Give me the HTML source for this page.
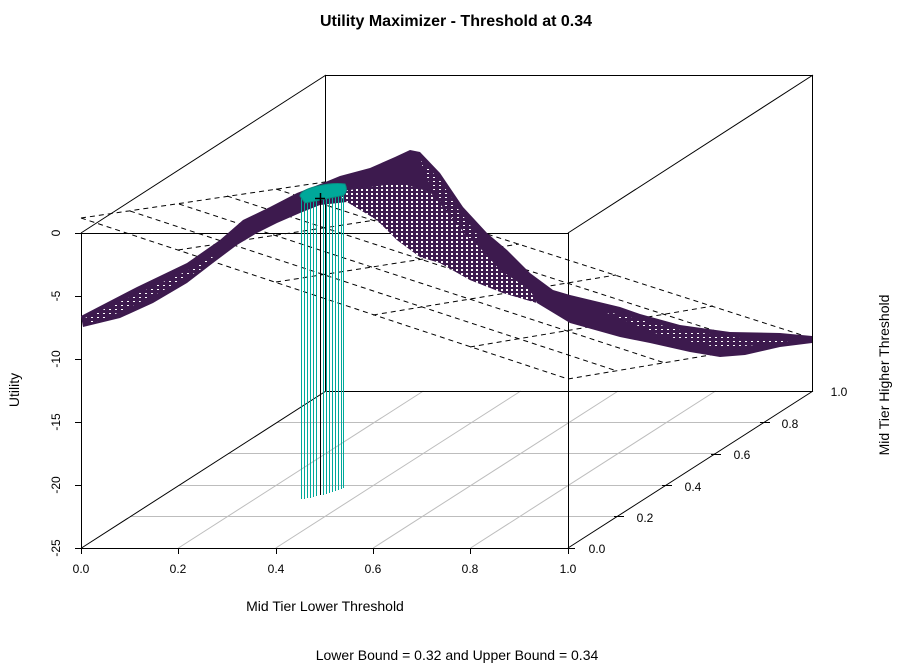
<!DOCTYPE html>
<html><head><meta charset="utf-8"><style>
html,body{margin:0;padding:0;background:#fff;}
svg{display:block;font-family:"Liberation Sans",Arial,sans-serif;}
</style></head><body>
<svg width="899" height="664" viewBox="0 0 899 664" xmlns="http://www.w3.org/2000/svg">
<defs>
<pattern id="hp" width="5" height="4" patternUnits="userSpaceOnUse">
<rect width="5" height="4" fill="#3d1a4e"/>
<rect x="1" y="1" width="2" height="2" fill="#fff"/>
</pattern>
<pattern id="hp2" width="6" height="4" patternUnits="userSpaceOnUse">
<rect width="6" height="4" fill="#3d1a4e"/>
<rect x="1" y="1" width="2" height="1" fill="#fff"/>
</pattern>
</defs>
<rect width="899" height="664" fill="#fff"/>
<text x="456" y="26" text-anchor="middle" font-size="16" font-weight="bold">Utility Maximizer - Threshold at 0.34</text>

<g stroke="#bdbdbd" stroke-width="1">
<line x1="178.4" y1="548" x2="423.4" y2="391"/>
<line x1="275.8" y1="548" x2="520.8" y2="391"/>
<line x1="373.2" y1="548" x2="618.2" y2="391"/>
<line x1="470.6" y1="548" x2="715.6" y2="391"/>
<line x1="130" y1="516.5" x2="617" y2="516.5"/>
<line x1="179" y1="485.5" x2="666" y2="485.5"/>
<line x1="228" y1="453.5" x2="715" y2="453.5"/>
<line x1="277" y1="422.5" x2="764" y2="422.5"/>
</g>

<g stroke="#000" stroke-width="1" fill="none">
<line x1="81.5" y1="548" x2="326" y2="391"/>
<line x1="326" y1="391.5" x2="813" y2="391.5"/>
<line x1="325.5" y1="75" x2="325.5" y2="391"/>
<line x1="81" y1="233" x2="326" y2="75"/>
<line x1="326" y1="75.5" x2="813" y2="75.5"/>
<line x1="812.5" y1="75" x2="812.5" y2="391"/>
<line x1="568" y1="233" x2="813" y2="75"/>
<line x1="81" y1="233.5" x2="568" y2="233.5"/>
<line x1="81.5" y1="233" x2="81.5" y2="548"/>
<line x1="568.5" y1="233" x2="568.5" y2="548"/>
<line x1="81" y1="548.5" x2="568" y2="548.5"/>
<line x1="568" y1="548" x2="813" y2="391"/>
</g>

<g stroke="#000" stroke-width="1" stroke-dasharray="5,4" fill="none">
<line x1="81" y1="218" x2="568" y2="379"/>
<line x1="130" y1="211" x2="617" y2="371"/>
<line x1="179" y1="204" x2="665" y2="363"/>
<line x1="227" y1="196" x2="714" y2="355"/>
<line x1="276" y1="189" x2="762" y2="346"/>
<line x1="325" y1="182" x2="811" y2="338"/>
<line x1="81" y1="218" x2="325" y2="182"/>
<line x1="178" y1="250" x2="422" y2="213"/>
<line x1="276" y1="282" x2="519" y2="244"/>
<line x1="373" y1="315" x2="616" y2="275"/>
<line x1="470" y1="347" x2="713" y2="306"/>
<line x1="568" y1="379" x2="811" y2="338"/>
</g>

<polygon fill="#3d1a4e" points="81,316 137,287 187,263 220,240 243,220 270,207 297,193 323,183 340,176 370,168 395,157 410,150 420,152 440,173 463,207 487,233 507,250 530,273 553,290 570,295 620,307 640,314 680,325 730,332 780,333 812,336 812,343 780,347 745,355 720,357 690,352 650,343 620,337 570,323 537,303 503,293 470,280 440,263 420,257 397,240 377,220 347,202 320,205 300,213 277,223 257,233 237,245 213,263 187,283 153,303 120,318 83,327"/>
<polygon fill="url(#hp)" points="335,192 400,183 430,192 455,222 480,248 500,270 530,290 537,303 503,293 470,280 440,263 420,257 397,240 377,220 347,202"/>
<polygon fill="url(#hp2)" points="420,160 440,180 460,212 480,238 470,240 450,215 430,185"/>
<polygon fill="url(#hp2)" points="85,318 135,295 185,272 215,255 200,270 160,292 120,312 90,324"/>
<polygon fill="url(#hp2)" points="600,310 680,330 740,338 800,338 780,343 720,348 660,335"/>

<g stroke="#00a89a" stroke-width="1">
<line x1="301.5" y1="198" x2="301.5" y2="499"/>
<line x1="304.5" y1="198" x2="304.5" y2="499"/>
<line x1="307.5" y1="196" x2="307.5" y2="498"/>
<line x1="310.5" y1="196" x2="310.5" y2="498"/>
<line x1="313.5" y1="195" x2="313.5" y2="497"/>
<line x1="316.5" y1="195" x2="316.5" y2="496"/>
<line x1="323.5" y1="193" x2="323.5" y2="495"/>
<line x1="326.5" y1="192" x2="326.5" y2="494"/>
<line x1="329.5" y1="191" x2="329.5" y2="493"/>
<line x1="332.5" y1="190" x2="332.5" y2="492"/>
<line x1="335.5" y1="189" x2="335.5" y2="491"/>
<line x1="338.5" y1="188" x2="338.5" y2="490"/>
<line x1="341.5" y1="188" x2="341.5" y2="489"/>
<line x1="343.5" y1="187" x2="343.5" y2="488"/>
</g>
<path d="M300,196 C300,188 330,182 345,184 C348,190 346,196 340,196 L305,203 Z" fill="#00a89a" stroke="#0a8a80"/>
<line x1="320.5" y1="197" x2="320.5" y2="495" stroke="#000"/>
<path d="M315,198.5 h10 M320.5,193 v10" stroke="#000" stroke-width="1.5"/>

<g stroke="#000">
<line x1="75" y1="233.5" x2="81" y2="233.5"/><line x1="75" y1="296.5" x2="81" y2="296.5"/>
<line x1="75" y1="359.5" x2="81" y2="359.5"/><line x1="75" y1="422.5" x2="81" y2="422.5"/>
<line x1="75" y1="485.5" x2="81" y2="485.5"/><line x1="75" y1="548.5" x2="81" y2="548.5"/>
<line x1="81.5" y1="548" x2="81.5" y2="554"/><line x1="178.5" y1="548" x2="178.5" y2="554"/>
<line x1="276.5" y1="548" x2="276.5" y2="554"/><line x1="373.5" y1="548" x2="373.5" y2="554"/>
<line x1="470.5" y1="548" x2="470.5" y2="554"/><line x1="568.5" y1="548" x2="568.5" y2="554"/>
<line x1="565" y1="548.5" x2="575" y2="548.5"/><line x1="614" y1="516.5" x2="624" y2="516.5"/>
<line x1="662" y1="485.5" x2="672" y2="485.5"/><line x1="711" y1="454.5" x2="721" y2="454.5"/>
<line x1="760" y1="422.5" x2="770" y2="422.5"/>
</g>
<g font-size="12" text-anchor="middle">
<text transform="translate(60,233) rotate(-90)">0</text>
<text transform="translate(60,296) rotate(-90)">-5</text>
<text transform="translate(60,359) rotate(-90)">-10</text>
<text transform="translate(60,422) rotate(-90)">-15</text>
<text transform="translate(60,485) rotate(-90)">-20</text>
<text transform="translate(60,548) rotate(-90)">-25</text>
<text x="81" y="573">0.0</text><text x="178" y="573">0.2</text><text x="276" y="573">0.4</text>
<text x="373" y="573">0.6</text><text x="470" y="573">0.8</text><text x="568" y="573">1.0</text>
<text x="597" y="553">0.0</text><text x="645" y="522">0.2</text><text x="693" y="491">0.4</text>
<text x="742" y="459">0.6</text><text x="790" y="428">0.8</text><text x="839" y="396">1.0</text>
</g>
<g font-size="14" text-anchor="middle">
<text x="325" y="611">Mid Tier Lower Threshold</text>
<text x="457" y="660">Lower Bound = 0.32 and Upper Bound = 0.34</text>
<text transform="translate(19,390) rotate(-90)">Utility</text>
<text transform="translate(889,375) rotate(-90)">Mid Tier Higher Threshold</text>
</g>
</svg>
</body></html>
